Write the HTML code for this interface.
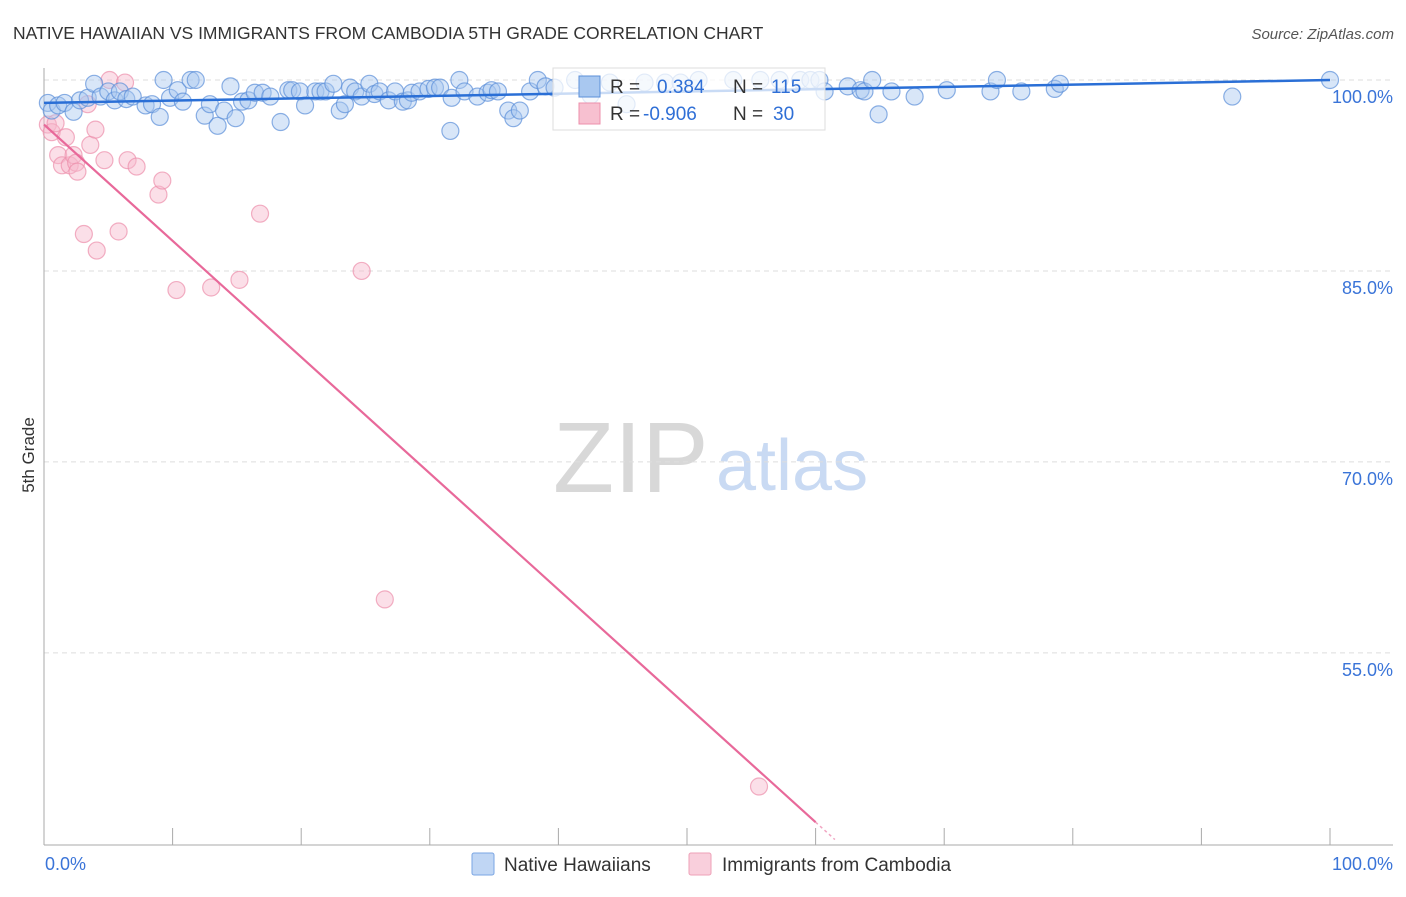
<!DOCTYPE html>
<html><head><meta charset="utf-8"><style>
body{margin:0;background:#fff;font-family:"Liberation Sans",sans-serif;}
svg text{font-family:"Liberation Sans",sans-serif;}
</style></head><body>
<svg id="chart" width="1406" height="892" viewBox="0 0 1406 892" xmlns="http://www.w3.org/2000/svg">
<text x="13" y="39" font-size="17.5" fill="#333">NATIVE HAWAIIAN VS IMMIGRANTS FROM CAMBODIA 5TH GRADE CORRELATION CHART</text>
<text x="1394" y="39" font-size="15" fill="#555" font-style="italic" text-anchor="end">Source: ZipAtlas.com</text>
<g>
<text x="553" y="492" font-size="100" fill="#d8d8d8" font-family="Liberation Serif, serif">ZIP</text>
<text x="716" y="490" font-size="72" fill="#c9daf3">atlas</text>
</g>
<g id="grid"></g>
<g id="axes"></g>
<g id="pts"></g>
<g id="lines"></g>
<text transform="translate(34,455) rotate(-90)" font-size="17" fill="#333" text-anchor="middle">5th Grade</text>
<g>
<rect x="553" y="68" width="272" height="62" fill="#fff" fill-opacity="0.75" stroke="#ddd"/>
<rect x="579" y="76" width="21" height="21" fill="#a9c8f0" stroke="#5b8fd9"/>
<rect x="579" y="103" width="21" height="21" fill="#f7c0d0" stroke="#ec8fab"/>
<text x="610" y="93" font-size="19" fill="#333">R = <tspan fill="#2f6fd6" x="657">0.384</tspan><tspan x="733" fill="#333">N = </tspan><tspan fill="#2f6fd6" x="771">115</tspan></text>
<text x="610" y="120" font-size="19" fill="#333">R = <tspan fill="#2f6fd6" x="643">-0.906</tspan><tspan x="733" fill="#333">N = </tspan><tspan fill="#2f6fd6" x="773">30</tspan></text>
</g>
<g>
<rect x="472" y="853" width="22" height="22" rx="2" fill="#c0d6f4" stroke="#7aa5e3"/>
<text x="504" y="871" font-size="19" fill="#333">Native Hawaiians</text>
<rect x="689" y="853" width="22" height="22" rx="2" fill="#f9cfdc" stroke="#eea0b7"/>
<text x="722" y="871" font-size="19" fill="#333">Immigrants from Cambodia</text>
</g>
</svg>
<script>
const yTicks=[100,85,70,55];
const yTickLabels=["100.0%","85.0%","70.0%","55.0%"];
const xTicks=[0,10,20,30,40,50,60,70,80,90,100];
const xEndLabels=["0.0%","100.0%"];
const blueX=[0.3,0.6,1.1,1.6,2.3,2.8,3.4,3.9,4.4,5.0,5.5,5.9,6.4,6.9,7.9,8.4,9.0,9.3,9.8,10.4,10.8,11.4,11.8,12.5,12.9,13.5,14.0,14.5,14.9,15.4,15.9,16.4,17.0,17.6,18.4,19.0,19.3,19.9,20.3,21.1,21.5,21.9,22.5,23.0,23.4,23.8,24.2,24.7,25.3,25.7,26.1,26.8,27.3,27.9,28.3,28.6,29.2,29.9,30.4,30.8,31.6,31.7,32.3,32.7,33.7,34.5,34.8,35.3,36.1,36.5,37.0,37.8,38.4,39.0,39.7,41.3,42.5,44.0,45.3,46.7,48.3,49.5,50.9,53.6,55.7,57.2,58.8,59.6,60.3,60.7,62.5,63.5,63.8,64.4,64.9,65.9,67.7,70.2,73.6,74.1,76.0,78.6,79.0,92.4,100];
const blueY=[98.2,97.6,98.0,98.2,97.5,98.4,98.6,99.7,98.7,99.1,98.4,99.1,98.5,98.7,98.0,98.1,97.1,100,98.6,99.2,98.3,100,100,97.2,98.1,96.4,97.6,99.5,97.0,98.3,98.4,99.0,99.0,98.7,96.7,99.2,99.2,99.1,98.0,99.1,99.1,99.1,99.7,97.6,98.1,99.4,99.1,98.7,99.7,98.9,99.1,98.4,99.1,98.3,98.4,99.0,99.1,99.3,99.4,99.4,96.0,98.6,100,99.1,98.7,99.0,99.2,99.1,97.6,97.0,97.6,99.1,100,99.5,99.4,100,98.8,99.8,98.1,99.8,99.8,99.8,100,100,100,100,100,100,100,99.1,99.5,99.2,99.1,100,97.3,99.1,98.7,99.2,99.1,100,99.1,99.3,99.7,98.7,100];
const pinkX=[0.3,0.6,0.9,1.1,1.4,1.7,2.0,2.3,2.5,2.6,3.1,3.4,3.6,4.0,4.1,4.7,5.1,5.8,6.3,6.5,7.2,8.9,9.2,10.3,13.0,15.2,16.8,24.7,26.5,55.6];
const pinkY=[96.5,95.9,96.6,94.1,93.3,95.5,93.3,94.1,93.5,92.8,87.9,98.1,94.9,96.1,86.6,93.7,100,88.1,99.8,93.7,93.2,91.0,92.1,83.5,83.7,84.3,89.5,85.0,59.2,44.5];
const blueTrend=[98.2,100];
const pinkTrend=[96.5,41.7];
const pinkTrendEndX=60.0;

const X0=44,X1=1330,YTOP=80,PX_PER_PCT=12.73,YBOT=845;
const sx=v=>X0+(X1-X0)*v/100;
const sy=v=>YTOP+(100-v)*PX_PER_PCT;
const NS="http://www.w3.org/2000/svg";
function mk(tag,attrs,parent){const e=document.createElementNS(NS,tag);for(const k in attrs)e.setAttribute(k,attrs[k]);document.getElementById(parent).appendChild(e);return e;}

yTicks.forEach((t,i)=>{
  const g=mk('line',{x1:X0,x2:1393,y1:sy(t),y2:sy(t),stroke:'#ddd','stroke-dasharray':'5,4'},'grid');
  
  
  const l=mk('text',{x:1393,y:sy(t)+23,'font-size':18,fill:'#3a74d8','text-anchor':'end'},'grid');
  l.textContent=yTickLabels[i];
  
  
});
const ya=mk('line',{x1:X0,x2:X0,y1:68,y2:YBOT,stroke:'#aaa'},'axes');


const xa=mk('line',{x1:X0,x2:1393,y1:YBOT,y2:YBOT,stroke:'#aaa'},'axes');


xTicks.forEach(t=>{
  const tk=mk('line',{x1:sx(t),x2:sx(t),y1:828,y2:YBOT,stroke:'#aaa'},'axes');
  
  
});
const xl0=mk('text',{x:45,y:870,'font-size':18,fill:'#3a74d8'},'axes');
xl0.textContent=xEndLabels[0];


const xl1=mk('text',{x:1393,y:870,'font-size':18,fill:'#3a74d8','text-anchor':'end'},'axes');
xl1.textContent=xEndLabels[1];



pinkX.forEach((v,i)=>{
  const c=mk('circle',{cx:sx(v),cy:sy(pinkY[i]),r:8.5,fill:'#f7b8cb','fill-opacity':0.45,stroke:'#ec8fab','stroke-opacity':0.7,'stroke-width':1.2},'pts');
  
  
});
blueX.forEach((v,i)=>{
  const c=mk('circle',{cx:sx(v),cy:sy(blueY[i]),r:8.5,fill:'#a9c8f0','fill-opacity':0.45,stroke:'#5b8fd9','stroke-opacity':0.7,'stroke-width':1.2},'pts');
  
  
});
const bl=mk('line',{x1:sx(0),y1:sy(blueTrend[0]),x2:sx(100),y2:sy(blueTrend[1]),stroke:'#2a6fd6','stroke-width':2.5},'lines');


const slope=(pinkTrend[1]-pinkTrend[0])/pinkTrendEndX;
const pl=mk('line',{x1:sx(0),y1:sy(pinkTrend[0]),x2:sx(pinkTrendEndX),y2:sy(pinkTrend[1]),stroke:'#e8699a','stroke-width':2.2},'lines');


const ext=pinkTrendEndX+1.5;
const pd=mk('line',{x1:sx(pinkTrendEndX),y1:sy(pinkTrend[1]),x2:sx(ext),y2:sy(pinkTrend[0]+slope*ext),stroke:'#e8699a','stroke-width':1.5,'stroke-dasharray':'3,3','stroke-opacity':0.6},'lines');


</script>
</body></html>
